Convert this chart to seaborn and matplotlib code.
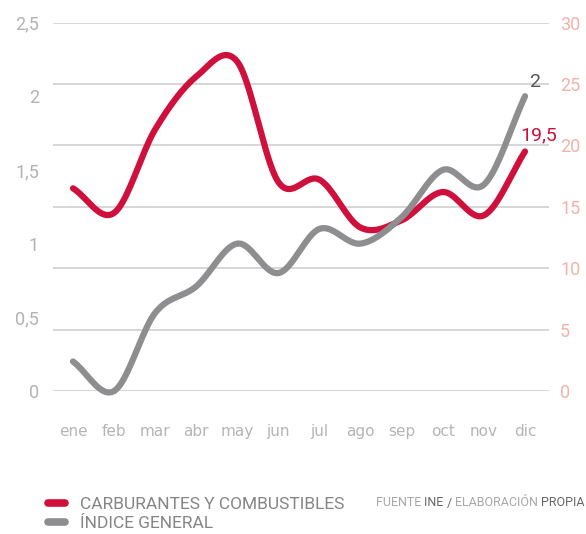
import numpy as np
import pandas as pd
import matplotlib.pyplot as plt
import seaborn as sns
from matplotlib.lines import Line2D

# Data
months = ["ene", "feb", "mar", "abr", "may", "jun", "jul", "ago", "sep", "oct", "nov", "dic"]
indice_general = [0.2, 0.0, 0.53, 0.71, 1.0, 0.8, 1.1, 1.0, 1.18, 1.5, 1.4, 2.0]
carburantes = [16.5, 14.5, 21.3, 25.6, 26.8, 17.0, 17.2, 13.3, 13.9, 16.2, 14.3, 19.5]
left_ticks = [0, 0.5, 1, 1.5, 2, 2.5]
right_ticks = [0, 5, 10, 15, 20, 25, 30]

RED = "#d0103c"
GREY = "#8e8e90"


def smooth(x, y, n=20):
    # Catmull-Rom curve through the points, only for drawing
    x = np.asarray(x, float)
    y = np.asarray(y, float)
    px = np.concatenate([[2 * x[0] - x[1]], x, [2 * x[-1] - x[-2]]])
    py = np.concatenate([[2 * y[0] - y[1]], y, [2 * y[-1] - y[-2]]])
    t = np.linspace(0, 1, n, endpoint=False)[:, None]
    out_x, out_y = [], []
    for i in range(1, len(px) - 2):
        for p, out in ((px, out_x), (py, out_y)):
            p0, p1, p2, p3 = p[i - 1], p[i], p[i + 1], p[i + 2]
            seg = 0.5 * ((2 * p1) + (-p0 + p2) * t + (2 * p0 - 5 * p1 + 4 * p2 - p3) * t ** 2
                         + (-p0 + 3 * p1 - 3 * p2 + p3) * t ** 3)
            out.extend(seg.ravel())
    out_x.append(x[-1])
    out_y.append(y[-1])
    return np.array(out_x), np.array(out_y)


sns.set_style("white")
plt.rcParams["font.family"] = ["Roboto", "DejaVu Sans"]

fig = plt.figure(figsize=(5.86, 5.34), dpi=100)
rect = [53 / 586, 1 - 391 / 534, 496 / 586, 368.5 / 534]
ax2 = fig.add_axes(rect, label="right")   # red series, right scale, grid
ax = fig.add_axes(rect, label="left")     # grey series, left scale, on top
ax.patch.set_visible(False)

xpos = np.arange(len(months))

rx, ry = smooth(xpos, carburantes)
sns.lineplot(x=rx, y=ry, ax=ax2, sort=False, color=RED, linewidth=4.5,
             solid_capstyle="round", clip_on=False)
gx, gy = smooth(xpos, indice_general)
sns.lineplot(x=gx, y=gy, ax=ax, sort=False, color=GREY, linewidth=4.5,
             solid_capstyle="round", clip_on=False)

ax2.set_ylim(0, 30)
ax.set_ylim(0, 2.5)
for a in (ax, ax2):
    a.set_xlim(-0.487, 11.584)
    for s in a.spines.values():
        s.set_visible(False)

ax2.yaxis.tick_right()
ax2.set_yticks(right_ticks)
ax2.set_yticklabels([str(t) for t in right_ticks], color="#f1b3a9", fontsize=13)
ax2.grid(axis="y", color="#cfcfcf", linewidth=1.2)
ax2.grid(axis="x", visible=False)
ax2.set_xticks(xpos)
ax2.set_xticklabels(months, fontsize=11, color="#b5b5b8", family="DejaVu Sans")
ax2.tick_params(axis="y", length=0, pad=8)
ax2.tick_params(axis="x", length=0, pad=24)

ax.yaxis.tick_left()
ax.set_yticks(left_ticks)
ax.set_yticklabels([f"{t:g}".replace(".", ",") for t in left_ticks], color="#b3b3b6", fontsize=13)
ax.tick_params(axis="y", length=0, pad=10)
ax.set_xticks([])
ax.grid(False)

# end labels
ax.annotate(f"{indice_general[-1]:g}", (xpos[-1], indice_general[-1]), xytext=(7, 4),
            textcoords="offset points", color="#555555", fontsize=14, ha="center", va="bottom")
ax2.annotate(f"{carburantes[-1]:g}".replace(".", ","), (xpos[-1], carburantes[-1]),
             xytext=(10, 5), textcoords="offset points", color=RED, fontsize=14,
             ha="center", va="bottom")

# legend
handles = [Line2D([], [], color=RED, linewidth=5.5, solid_capstyle="round"),
           Line2D([], [], color=GREY, linewidth=5.5, solid_capstyle="round")]
leg = fig.legend(handles, ["CARBURANTES Y COMBUSTIBLES", "ÍNDICE GENERAL"],
                 loc="upper left", bbox_to_anchor=(48 / 586, 1 - 497 / 534),
                 frameon=False, fontsize=12.5, handlelength=1.0, handletextpad=0.85,
                 labelspacing=0.2, borderpad=0, borderaxespad=0)
for t in leg.get_texts():
    t.set_color("#858585")

# source line with mixed colours
renderer = fig.canvas.get_renderer()
x = 376 / 586
y = 1 - 503 / 534
for word, col in [("FUENTE ", "#a8a8a8"), ("INE ", "#666666"), ("/ ", "#666666"),
                  ("ELABORACIÓN ", "#a8a8a8"), ("PROPIA", "#666666")]:
    t = fig.text(x, y, word, fontsize=9, color=col, va="center", ha="left")
    bb = t.get_window_extent(renderer)
    x = fig.transFigure.inverted().transform((bb.x1, 0))[0]

fig.savefig("out.png", dpi=100)
